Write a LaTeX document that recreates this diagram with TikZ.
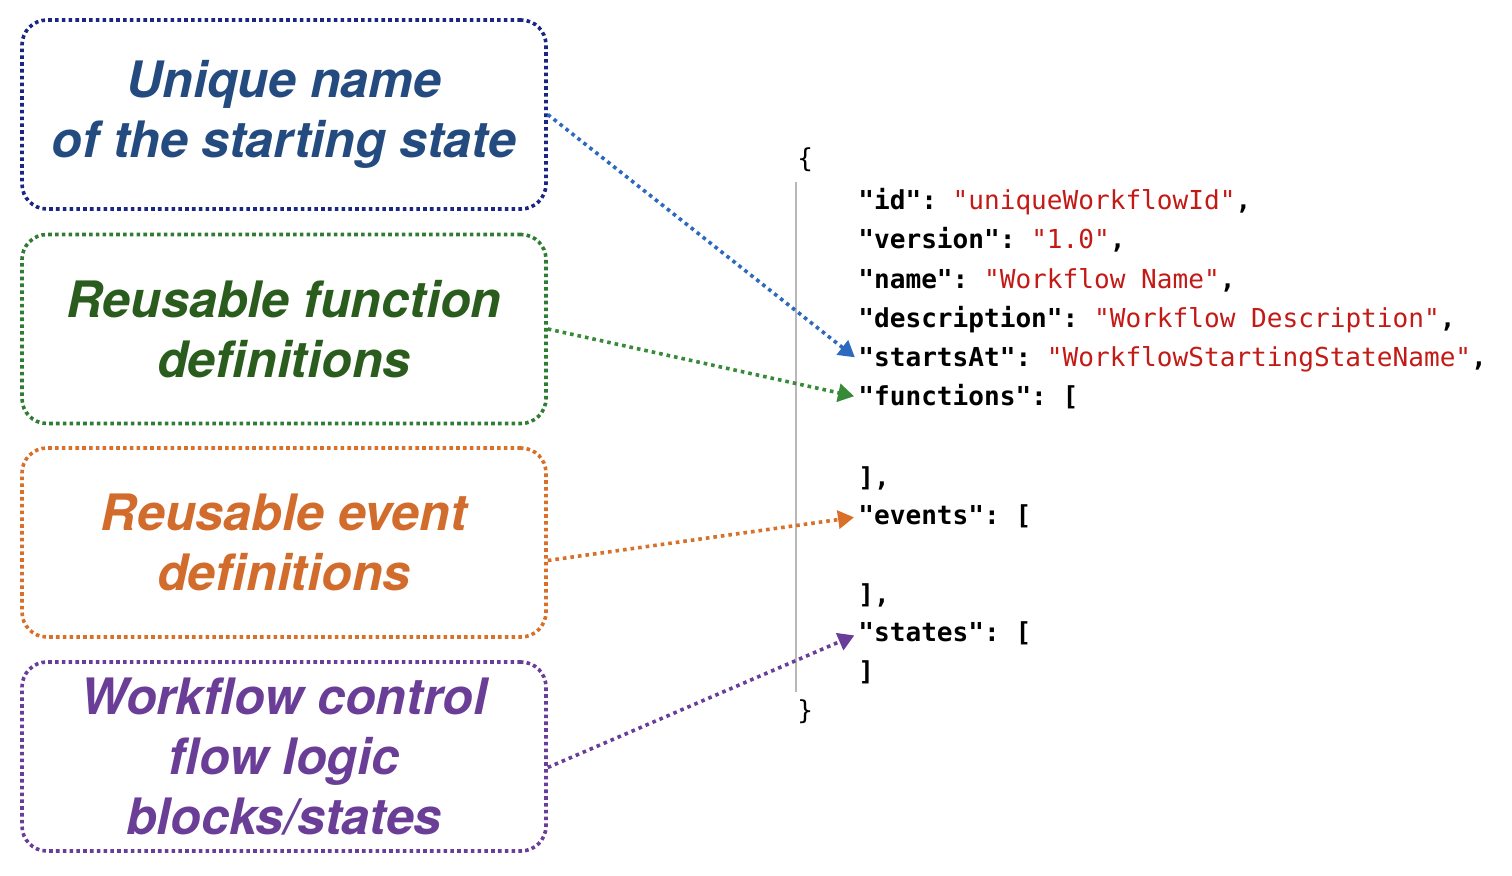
\documentclass[tikz,border=0pt]{standalone}
\usepackage{fontspec}
\usepackage{tikz}
\usetikzlibrary{arrows.meta}

\newfontfamily\labelfont{TeX Gyre Heros}
\newfontfamily\codefont{DejaVu Sans Mono}

\definecolor{navyline}{RGB}{26,38,130}
\definecolor{navytext}{RGB}{36,75,127}
\definecolor{navyarrow}{RGB}{45,105,190}
\definecolor{greenline}{RGB}{46,125,50}
\definecolor{greentext}{RGB}{42,92,30}
\definecolor{greenarrow}{RGB}{56,138,56}
\definecolor{orangeline}{RGB}{217,112,42}
\definecolor{orangetext}{RGB}{210,108,45}
\definecolor{purpleline}{RGB}{106,62,152}
\definecolor{purpletext}{RGB}{106,62,150}
\definecolor{codered}{RGB}{196,26,22}

\newcommand{\jkey}[1]{\textbf{"#1":}}
\newcommand{\jval}[1]{\textcolor{codered}{"#1"}}

\frenchspacing

\begin{document}
\begin{tikzpicture}[x=0.5pt,y=-0.5pt,
	box/.style={draw,line width=1.8pt,dash pattern=on 1.8pt off 1.6pt,rounded corners=12.5pt,
		minimum width=262pt,minimum height=94.5pt,align=center,
		font=\labelfont\bfseries\itshape\fontsize{25.1}{30}\selectfont},
	codeline/.style={anchor=base west,inner sep=0pt,font=\codefont\fontsize{13.05}{15}\selectfont},
	pointer/.style={line width=1.8pt,dash pattern=on 1.8pt off 2pt,shorten >=2pt,
		-{Triangle[length=8pt,width=9pt]}}]
	
	\useasboundingbox (0,0) rectangle (1512,876);
	
	% label boxes
	\node[box,navyline,text=navytext] (start) at (284,114.5) {Unique name\\of the starting state};
	\node[box,greenline,text=greentext] (func) at (284,329) {Reusable function\\definitions};
	\node[box,orangeline,text=orangetext] (event) at (284,542.5) {Reusable event\\definitions};
	\node[box,purpleline,text=purpletext] (state) at (284,756.5) {Workflow control\\flow logic\\blocks/states};
	
	% workflow json
	\coordinate (top) at (796,182);
	\coordinate (bottom) at (796,692);
	\draw[line width=0.7pt,black!28](top) -- (bottom);
	
	\node[codeline] (open) at (797,168) {\{};
	\node[codeline] (id) at (858,210) {\jkey{id} \jval{uniqueWorkflowId}\textbf{,}};
	\node[codeline] (version) at (858,249) {\jkey{version} \jval{1.0}\textbf{,}};
	\node[codeline] (name) at (858,289) {\jkey{name} \jval{Workflow Name}\textbf{,}};
	\node[codeline] (descr) at (858,328) {\jkey{description} \jval{Workflow Description}\textbf{,}};
	\node[codeline] (startsat) at (858,367) {\jkey{startsAt} \jval{WorkflowStartingStateName}\textbf{,}};
	\node[codeline] (functions) at (858,406) {\jkey{functions} \textbf{[}};
	\node[codeline] (fclose) at (858,487) {\textbf{],}};
	\node[codeline] (events) at (858,525) {\jkey{events} \textbf{[}};
	\node[codeline] (eclose) at (858,604) {\textbf{],}};
	\node[codeline] (states) at (858,642) {\jkey{states} \textbf{[}};
	\node[codeline] (sclose) at (858,681) {\textbf{]}};
	\node[codeline] (close) at (797,720) {\}};
	
	% pointers
	\draw[pointer,navyarrow](start.east) -- (startsat.west);
	\draw[pointer,greenarrow](func.east) -- (functions.west);
	\draw[pointer,orangeline]([yshift=-9pt]event.east) -- (events.west);
	\draw[pointer,purpleline]([yshift=-5.5pt]state.east) -- (states.west);
	%\draw[pointer,black](id.west) -- (version.west);
	
\end{tikzpicture}
\end{document}
